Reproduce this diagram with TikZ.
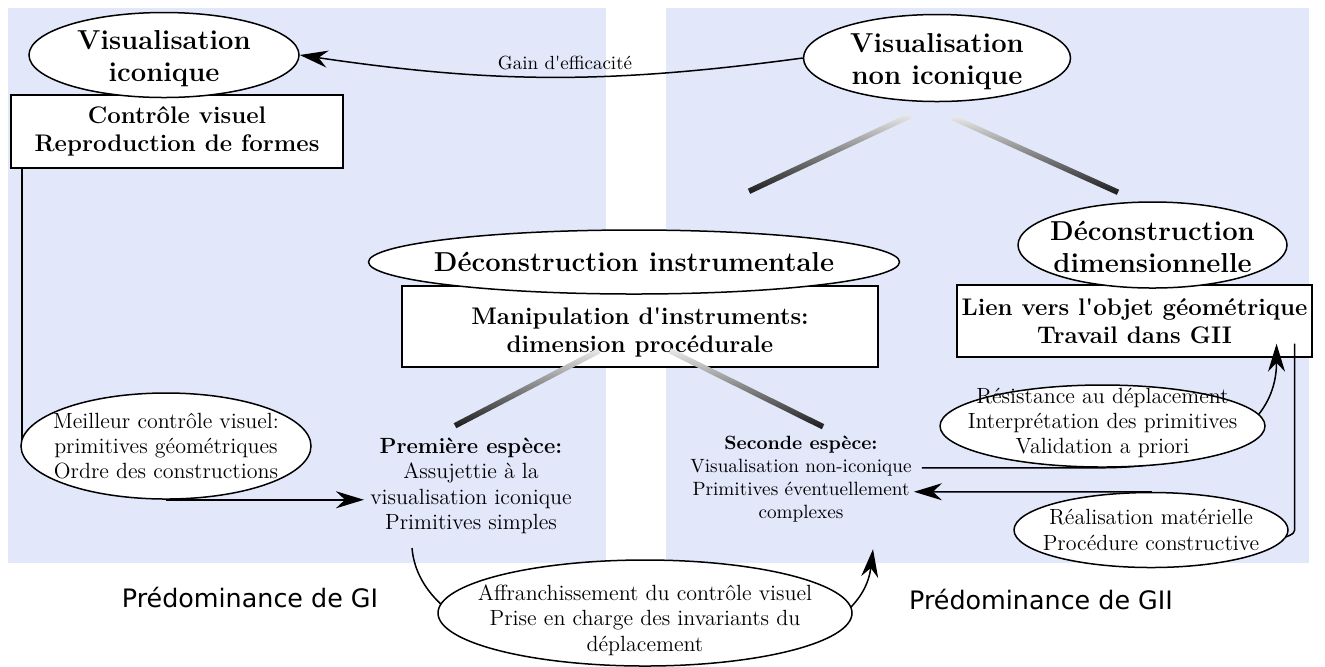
\documentclass[tikz,border=0pt]{standalone}
\usepackage{fontspec}
\newfontfamily\dejavu{DejaVu Sans}
\usetikzlibrary{shapes.geometric, arrows.meta, calc}
\pgfdeclarelayer{bgl}\pgfdeclarelayer{boxl}\pgfdeclarelayer{connl}
\pgfsetlayers{bgl,boxl,connl,main}
\definecolor{panel}{RGB}{226,231,250}
\newcommand\ttlfont{\fontsize{13.7}{16}\selectfont\bfseries}
\newcommand\boxfont{\fontsize{12}{14}\selectfont\bfseries}
\newcommand\bodyfont{\fontsize{11}{12.7}\selectfont}
\newcommand\smallfnt{\fontsize{9.6}{11.5}\selectfont}
\newcommand\gainfnt{\fontsize{9.5}{11}\selectfont}
\newcommand\predfnt{\dejavu\fontsize{12.7}{15}\selectfont}
\newcommand\gradline[2]{%
  \shade[top color=black!8, bottom color=black!90]
   ($(#1)!1.4pt!90:(#2)$) -- ($(#2)!1.4pt!-90:(#1)$) -- ($(#2)!1.4pt!90:(#1)$) -- ($(#1)!1.4pt!-90:(#2)$) -- cycle;}
\begin{document}
\begin{tikzpicture}[x=0.5pt, y=-0.5pt,
  ell/.style={ellipse, draw, fill=white, line width=0.75pt, inner sep=0pt},
  boxn/.style={rectangle, draw, fill=white, line width=0.7pt, inner sep=0pt, align=center, font=\boxfont},
  ttl/.style={align=center, font=\ttlfont},
  txt/.style={align=center, font=\bodyfont},
  wire/.style={line width=0.75pt},
  arr/.style={wire, -{Stealth[length=14pt,width=8.5pt,inset=4.5pt]}},
]
\useasboundingbox (0,0) rectangle (1325,666);
\begin{pgfonlayer}{bgl}
\fill[panel] (8,8) rectangle (606,563);
\fill[panel] (666,8) rectangle (1309,563);
\end{pgfonlayer}

\begin{pgfonlayer}{boxl}
\node[boxn, minimum width=166pt, minimum height=36.5pt] (cv) at (177,131.5) {Contrôle visuel\\Reproduction de formes};
\node[boxn, minimum width=238pt, minimum height=40.5pt] (mp) at (640,326.5) {\rule{0pt}{14.5pt}Manipulation d\textquotesingle instruments:\\dimension procédurale};
\node[boxn, minimum width=177.5pt, minimum height=36pt] (lk) at (1134.5,321) {Lien vers l\textquotesingle objet géométrique\\Travail dans GII};
\end{pgfonlayer}

% ellipses
\node[ell, minimum width=135pt, minimum height=42.5pt, label={[ttl,yshift=-2pt]center:Visualisation\\iconique}] (vi) at (164,55) {};
\node[ell, minimum width=133.5pt, minimum height=43.5pt, label={[ttl,yshift=-2pt]center:Visualisation\\non iconique}] (vni) at (937,58) {};
\node[ell, minimum width=265.5pt, minimum height=32pt, label={[ttl]center:Déconstruction instrumentale}] (di) at (634,262) {};
\node[ell, minimum width=134.5pt, minimum height=43pt, label={[ttl,yshift=-1pt]center:Déconstruction\\dimensionnelle}] (dd) at (1152.5,245) {};
\node[ell, minimum width=145pt, minimum height=53pt, label={[txt]center:Meilleur contrôle visuel:\\primitives géométriques\\Ordre des constructions}] (ml) at (166,446) {};
\node[ell, minimum width=162.5pt, minimum height=41pt, label={[txt,yshift=1.5pt]center:Résistance au déplacement\\Interprétation des primitives\\Validation a priori}] (rs) at (1102.5,426) {};
\node[ell, minimum width=137pt, minimum height=37.5pt, label={[txt]center:Réalisation matérielle\\Procédure constructive}] (rm) at (1151,530) {};
\node[ell, minimum width=207pt, minimum height=53pt, label={[txt,yshift=-3.5pt]center:Affranchissement du contrôle visuel\\Prise en charge des invariants du\\déplacement}] (af) at (645,613) {};

% text blocks
\node[txt, inner xsep=3pt] (pe) at (471,486) {\textbf{Première espèce:}\\Assujettie à la\\visualisation iconique\\Primitives simples};
\node[align=center, font=\smallfnt, inner xsep=1pt] (se) at (801,479.5) {\textbf{Seconde espèce:}\\Visualisation non-iconique\\Primitives éventuellement\\complexes};
\node[font=\predfnt] (pg1) at (250,598) {Prédominance de GI};
\node[font=\predfnt] (pg2) at (1041,600) {Prédominance de GII};

% coordinates
\coordinate (cvl) at ([xshift=5.75pt]cv.south west);
\coordinate (s1) at ([xshift=4pt]se.east);
\coordinate (t1) at ([xshift=71pt,yshift=7pt]lk.south);
\coordinate (s2) at ([xshift=-9pt,yshift=7pt]lk.south east);
\coordinate (rmb) at ([yshift=-8pt]rm.center);
\coordinate (t2) at (se.east |- rm.north);
\coordinate (g1a) at ([xshift=-13.5pt,yshift=-6.75pt]vni.south);
\coordinate (g1b) at ([xshift=57.5pt,yshift=19pt]di.north);
\coordinate (g2a) at ([xshift=8pt,yshift=-7.75pt]vni.south);
\coordinate (g2b) at ([xshift=-17.25pt,yshift=4.5pt]dd.north);
\coordinate (g3a) at ([xshift=-20.5pt,yshift=8.5pt]mp.south);
\coordinate (g3b) at ([xshift=-92.5pt,yshift=-29pt]mp.south);
\coordinate (g4a) at ([xshift=15pt,yshift=8.5pt]mp.south);
\coordinate (g4b) at ([xshift=91.5pt,yshift=-29.5pt]mp.south);

\begin{pgfonlayer}{connl}
\draw[arr] (vni.west) to[bend left=8] node[pos=0.47, above, font=\gainfnt] (gain) {Gain d\textquotesingle efficacité} (vi.east);
\draw[wire] (cvl) -- (cvl |- ml.west);
\draw[arr] (ml.south) -- (ml.south -| pe.west);
\draw[arr] ([xshift=-29.5pt,yshift=-3.5pt]pe.south) .. controls (425,700) and (855,700) .. ([xshift=36pt,yshift=-9.75pt]se.south);
\draw[arr] (s1 |- rs.south) -- (rs.south) to[out=0,in=-90,looseness=1.1] (t1);
\draw[arr] (s2) -- (s2 |- rm.center) to[out=-90,in=0,looseness=0.3] (rmb) -- (rm.north) -- (t2);
\gradline{g1a}{g1b}
\gradline{g2a}{g2b}
\gradline{g3a}{g3b}
\gradline{g4a}{g4b}
\end{pgfonlayer}
\end{tikzpicture}
\end{document}
